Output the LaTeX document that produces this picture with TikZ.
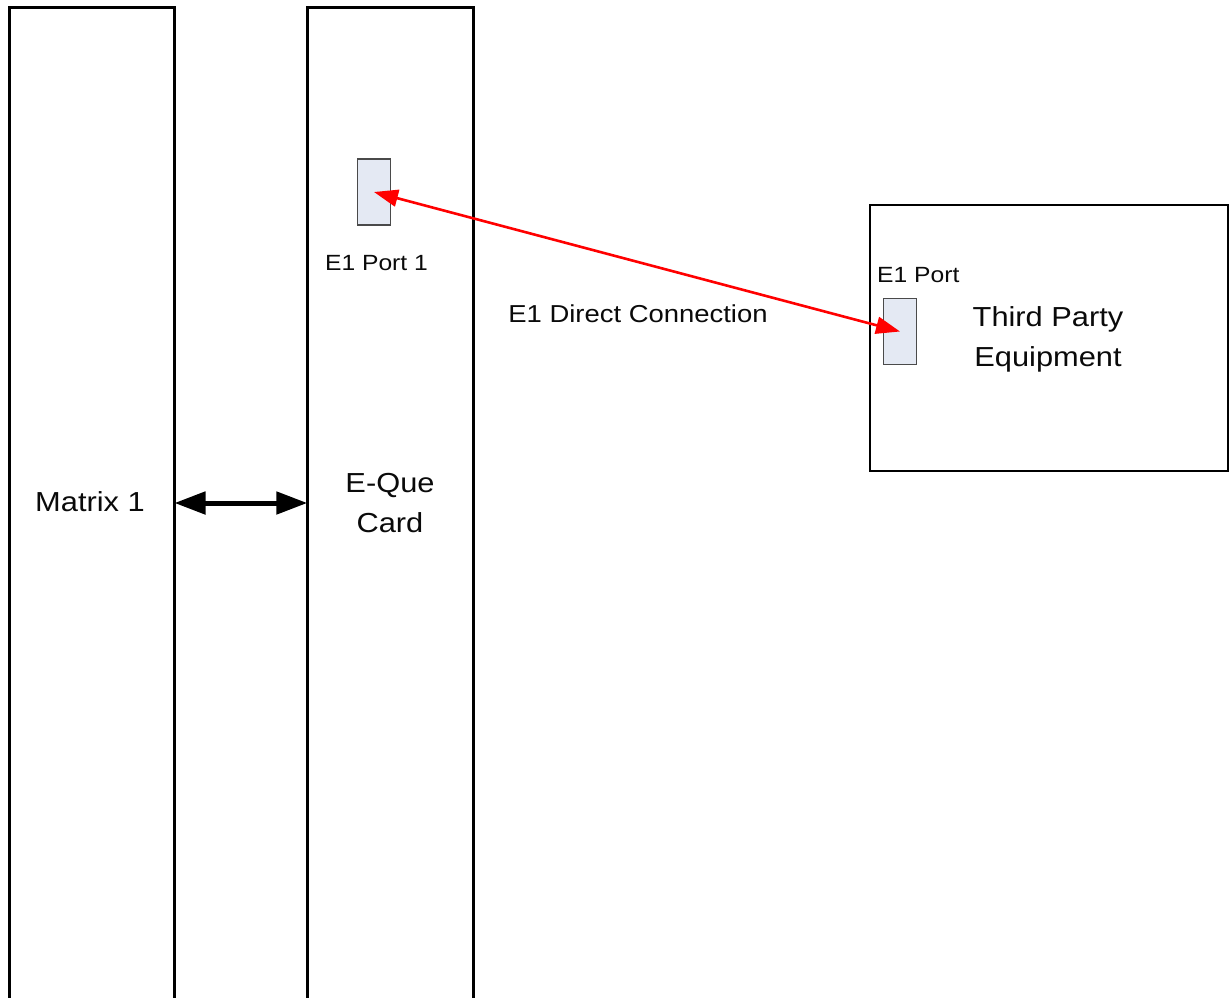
\documentclass[tikz,border=0pt]{standalone}
\usepackage{fontspec}
\setmainfont{Liberation Sans}[FakeStretch=1.12]
\usetikzlibrary{arrows.meta}
\definecolor{portfill}{HTML}{E4E9F3}
\definecolor{portline}{HTML}{4A4A4A}
\definecolor{txt}{HTML}{0A0A0A}
\begin{document}
\begin{tikzpicture}[x=1pt,y=-1pt,
  bigbox/.style={draw=black,line width=2.6pt,fill=none,outer sep=0pt,inner sep=0pt},
  portbox/.style={draw=portline,line width=1.3pt,fill=portfill,outer sep=0pt,inner sep=0pt,minimum width=33pt,minimum height=66pt},
  bigtxt/.style={font=\fontsize{27.5}{40}\selectfont,text=txt,inner sep=0pt,align=center},
  midtxt/.style={font=\fontsize{24.5}{30}\selectfont,text=txt,inner sep=0pt},
  smalltxt/.style={font=\fontsize{22}{26}\selectfont,text=txt,inner sep=0pt},
  blackarrow/.style={line width=5pt,{Triangle[length=31pt,width=22pt]}-{Triangle[length=31pt,width=22pt]}},
  redarrow/.style={draw=red,line width=2.6pt,{Triangle[length=24pt,width=17pt]}-{Triangle[length=24pt,width=17pt]}}]
\useasboundingbox (0,0) rectangle (1231,998);
\clip (0,0) rectangle (1231,998);
% boxes
\node[bigbox,anchor=north,minimum width=165pt,minimum height=1010pt] (mtx) at (92,7.3) {};
\node[bigbox,anchor=north,minimum width=166pt,minimum height=1010pt] (eque) at (390.3,7.3) {};
\node[bigbox,anchor=north west,minimum width=358pt,minimum height=266pt] (tpe) at (870,205) {};
% ports
\node[portbox] (p1) at (374,192) {};
\node[portbox] (p2) at (900,331.5) {};
% texts
\node[bigtxt,anchor=base] (tm) at (90,511) {Matrix 1};
\node[bigtxt,anchor=base] (te) at (390,532) {E-Que\\Card};
\node[bigtxt,anchor=base] (tt) at (1048,366) {Third Party\\Equipment};
\node[midtxt,anchor=base] (tc) at (638,322.7) {E1 Direct Connection};
\node[smalltxt,anchor=base] (tp1) at (376.5,270) {E1 Port 1};
\node[smalltxt,anchor=base west] (tp2) at (877,282) {E1 Port};
% connectors
\coordinate (mid) at (0,503);
\draw[blackarrow] (mtx.east |- mid) -- (eque.west |- mid);
\draw[redarrow] (p1.center) -- (p2.center);
\end{tikzpicture}
\end{document}
